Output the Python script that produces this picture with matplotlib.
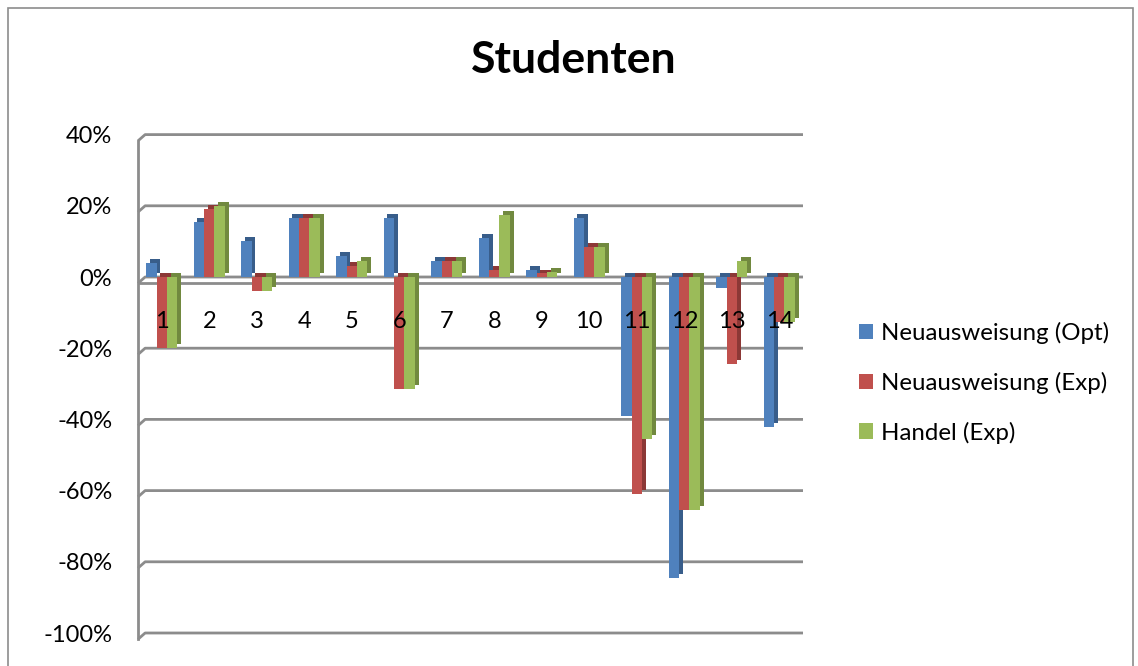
import numpy as np
import matplotlib
matplotlib.use("Agg")
import matplotlib.pyplot as plt
from matplotlib.patches import Rectangle, Patch

plt.rcParams['font.family'] = ['Lato', 'DejaVu Sans']

# data (percent)
categories = [str(i) for i in range(1, 15)]
neu_opt = [4, 15.5, 10, 16.5, 6, 16.5, 4.5, 11, 2, 16.5, -39, -84.5, -3, -42]
neu_exp = [-20, 19, -4, 16.5, 3, -31.5, 4.5, 2, 1, 8.5, -61, -65.5, -24.5, -12.5]
handel_exp = [-20, 20, -4, 16.5, 4.5, -31.5, 4.5, 17.5, 1.5, 8.5, -45.5, -65.5, 4.5, -12.5]
series_names = ["Neuausweisung (Opt)", "Neuausweisung (Exp)", "Handel (Exp)"]
yticks = [40, 20, 0, -20, -40, -60, -80, -100]

front_cols = ["#4F81BD", "#C0504D", "#9BBB59"]
side_cols = ["#385D8A", "#8C3836", "#71893F"]

W, H = 1138, 666
fig = plt.figure(figsize=(W / 100, H / 100), dpi=100)
ax = fig.add_axes([138 / W, 1 - 633 / H, (803 - 138) / W, (633 - 134.6) / H])

x = np.arange(1, len(categories) + 1)
bw = 0.22
dx, dy = 0.08, 1.1   # fake 3d depth
grid_col = "#8c8c8c"

ax.set_xlim(0.5, 14.5)
ax.set_ylim(-100, 40)

# gridlines with little 3d tail on the left
for t in yticks:
    ax.plot([0.5, 0.65, 14.5], [t - dy * 1.6, t, t], color=grid_col, lw=2, zorder=1,
            clip_on=False, solid_capstyle="butt")
ax.plot([0.5, 0.5], [-100 - dy * 1.6, 40 - dy * 1.6], color=grid_col, lw=2, zorder=1,
        clip_on=False)
# floor front edge
ax.plot([0.5, 14.3], [-dy * 1.6 + 0.2, -dy * 1.6 + 0.2], color=grid_col, lw=2, zorder=1.5)

all_vals = [neu_opt, neu_exp, handel_exp]
for i, vals in enumerate(all_vals):
    v = np.array(vals, dtype=float)
    xs = x + (i - 1) * bw
    ax.bar(xs + dx, v, bottom=dy, width=bw, color=side_cols[i], zorder=2 + i * 0.01, lw=0)
for i, vals in enumerate(all_vals):
    v = np.array(vals, dtype=float)
    xs = x + (i - 1) * bw
    ax.bar(xs, v, width=bw, color=front_cols[i], zorder=3 + i * 0.01, lw=0)

for xi, c in zip(x, categories):
    ax.text(xi, -12.6, c, ha="center", va="center", fontsize=17, zorder=5)

ax.set_yticks(yticks)
ax.set_yticklabels([f"{t}%" for t in yticks], fontsize=17)
ax.tick_params(axis="y", length=0, pad=18.5)
ax.set_xticks([])
for s in ax.spines.values():
    s.set_visible(False)
ax.patch.set_alpha(0)

fig.text(574 / W, 1 - 60 / H, "Studenten", ha="center", va="center",
         fontsize=32, fontweight="bold")

handles = [Patch(facecolor=c, edgecolor="none") for c in front_cols]
fig.legend(handles, series_names, loc="upper left", bbox_to_anchor=(859 / W, 1 - 322 / H),
           frameon=False, fontsize=17.3, handlelength=0.6, handleheight=0.6,
           handletextpad=0.3, labelspacing=1.15, borderaxespad=0, borderpad=0)

fig.patches.append(Rectangle((8 / W, -0.02), (1133 - 8) / W, 1.02 - 8 / H,
                             transform=fig.transFigure, fill=False,
                             edgecolor="#8c8c8c", lw=1.2))

fig.savefig("out.png", dpi=100)
